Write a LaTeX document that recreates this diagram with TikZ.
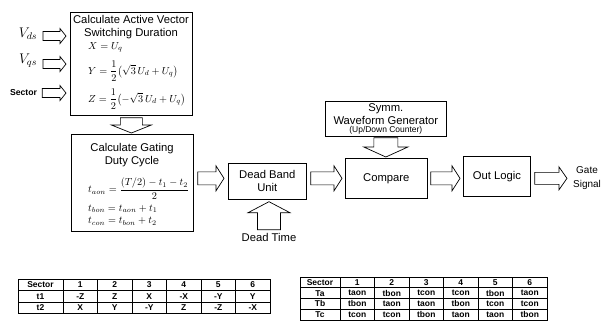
\documentclass[tikz,border=0pt]{standalone}
\usepackage{fix-cm}
\usepackage{amsmath}
\usepackage[no-math]{fontspec}
\setmainfont{Liberation Sans}
\usetikzlibrary{calc}

% hollow block arrow from #1 to #2: shaft half width #3, head half width #4, head length #5
\newcommand\blockarrow[5]{%
  \coordinate (ba-base) at ($(#2)!#5!(#1)$);
  \draw[fat] ($(#1)!#3!90:(#2)$) -- ($(ba-base)!#3!90:(#2)$) -- ($(ba-base)!#4!90:(#2)$)
    -- (#2) -- ($(ba-base)!#4!-90:(#2)$) -- ($(ba-base)!#3!-90:(#2)$)
    -- ($(#1)!#3!-90:(#2)$) -- cycle;}

\tikzset{
  box/.style={draw, line width=0.7bp, rectangle, inner sep=0, anchor=north west},
  lbl/.style={font=\fontsize{11.3}{13}\selectfont, align=center, inner sep=0},
  eq/.style={font=\fontsize{10.3}{11}\selectfont, inner sep=0, anchor=west},
  fat/.style={draw, line width=0.7bp, fill=white, line join=miter},
  grid/.style={line width=0.7bp},
  tbl/.style={font=\fontsize{8.5}{9}\bfseries, inner sep=0},
}

\begin{document}
\begin{tikzpicture}[x=1bp, y=-1bp]
\useasboundingbox (0,0) rectangle (601,325);

% ---- active vector switching duration
\node[box, minimum width=122bp, minimum height=103bp] (avec) at (70,12) {};
\node[lbl] (avtitle) at (131,27) {Calculate Active Vector\\Switching Duration};
\node[eq] (eqx) at (88,47) {$X = U_q$};
\node[eq] (eqy) at (88,71) {$Y = \dfrac{1}{2}\bigl(\sqrt{3}\,U_d + U_q\bigr)$};
\node[eq] (eqz) at (88,99) {$Z = \dfrac{1}{2}\bigl(-\sqrt{3}\,U_d + U_q\bigr)$};

% ---- inputs
\node[inner sep=0, font=\fontsize{14}{16}\selectfont] (vds) at (28,34) {$V_{ds}$};
\node[inner sep=0, font=\fontsize{14}{16}\selectfont] (vqs) at (28,61) {$V_{qs}$};
\node[inner sep=0, font=\fontsize{8.7}{10}\bfseries] (sector) at (23.5,93) {Sector};
\coordinate (i1s) at (43,36);
\coordinate (i1e) at (avec.west |- i1s);
\blockarrow{i1s}{$(i1e)+(-4,0)$}{4.5bp}{7.5bp}{6bp}
\coordinate (i2s) at (43,64);
\coordinate (i2e) at (avec.west |- i2s);
\blockarrow{i2s}{$(i2e)+(-4,0)$}{4.5bp}{7.5bp}{6bp}
\coordinate (i3s) at ($(sector.east)+(5,0)$);
\coordinate (i3e) at (avec.west |- i3s);
\blockarrow{i3s}{$(i3e)+(-4,0)$}{4.5bp}{7.5bp}{6bp}

% ---- gating duty cycle
\node[box, minimum width=122bp, minimum height=97bp] (gating) at (71,134) {};
\node[lbl] (gtitle) at (132,155.5) {Calculate Gating\\Duty Cycle};
\node[eq] (eqa) at (88,189) {$t_{aon} = \dfrac{(T/2)-t_1-t_2}{2}$};
\node[eq] (eqb) at (88,209) {$t_{bon} = t_{aon} + t_1$};
\node[eq] (eqc) at (88,221.5) {$t_{con} = t_{bon} + t_2$};

\coordinate (d1s) at ($(avec.south)+(0,2)$);
\coordinate (d1e) at ($(d1s |- gating.north)+(0,-1)$);
\blockarrow{d1s}{d1e}{11bp}{20bp}{8bp}

% ---- dead band unit
\node[box, minimum width=78bp, minimum height=36bp] (db) at (228,163) {};
\node[lbl] (dbtext) at (db.center) {Dead Band\\Unit};
\node[lbl] (dtime) at (269,237) {Dead Time};

\node[box, minimum width=82bp, minimum height=40bp] (compare) at (345,158) {};
\node[lbl] (cmptext) at (compare.center) {Compare};

\coordinate (a2s) at ($(gating.east |- compare.west)+(4,0)$);
\coordinate (a2e) at ($(db.west |- compare.west)+(-4,0)$);
\blockarrow{a2s}{a2e}{6.5bp}{12.5bp}{8bp}

\coordinate (u1s) at ($(dtime.north)+(0,-3)$);
\coordinate (u1e) at ($(dtime.north |- db.south)+(0,2)$);
\blockarrow{u1s}{u1e}{11.5bp}{21bp}{11bp}

% ---- symmetric waveform generator
\node[box, minimum width=121bp, minimum height=35bp] (gen) at (325,101) {};
\node[lbl] (gentext) at ($(gen.center)+(0,-5)$) {Symm.\\Waveform Generator};
\node[inner sep=0, font=\fontsize{8.5}{9}\selectfont] (gensub) at ($(gen.center)+(0,11.5)$) {(Up/Down Counter)};

\coordinate (g1s) at ($(gen.south)+(0,1)$);
\coordinate (g1e) at ($(gen.south |- compare.north)+(0,-1)$);
\blockarrow{g1s}{g1e}{12bp}{22bp}{10bp}

\coordinate (a3s) at ($(db.east |- compare.west)+(4,0)$);
\coordinate (a3e) at ($(compare.west)+(-3,0)$);
\blockarrow{a3s}{a3e}{6.5bp}{12.5bp}{8bp}

% ---- output logic and gate signal
\node[box, minimum width=67bp, minimum height=40bp] (outl) at (463,156) {};
\node[lbl] (outtext) at (outl.center) {Out Logic};
\node[align=center, inner sep=0, font=\fontsize{10}{14.5}\selectfont] (gate) at (587,178) {Gate\\Signal};

\coordinate (a4s) at ($(compare.east)+(3,0)$);
\coordinate (a4e) at ($(outl.west |- compare.east)+(-3,0)$);
\blockarrow{a4s}{a4e}{6.5bp}{12.5bp}{8bp}

\coordinate (a5s) at ($(outl.east |- compare.east)+(4,0)$);
\coordinate (a5e) at ($(gate.west |- compare.east)+(-6,0)$);
\blockarrow{a5s}{a5e}{6bp}{11.5bp}{8bp}

% ---- table of t1, t2 per sector
\draw[grid] (18,279) rectangle (270,313.5);
\foreach \yy in {290.5,302} \draw[grid] (18,\yy) -- (270,\yy);
\foreach \xx in {63,97.5,132,166.5,201,235.5} \draw[grid] (\xx,279) -- (\xx,313.5);
\foreach \row [count=\r from 0] in {{Sector,1,2,3,4,5,6},{t1,-Z,Z,X,-X,-Y,Y},{t2,X,Y,-Y,Z,-Z,-X}} {
  \foreach \cell [count=\c from 0] in \row {
    \pgfmathsetmacro\cx{\c==0 ? 40.5 : 63+34.5*(\c-0.5)}
    \pgfmathsetmacro\cy{279+11.5*(\r+0.5)}
    \node[tbl] (ta-\r-\c) at (\cx,\cy) {\cell};
  }
}

% ---- table of phase on-times per sector
\draw[grid] (300,277) rectangle (547,320);
\foreach \yy in {287.75,298.5,309.25} \draw[grid] (300,\yy) -- (547,\yy);
\foreach \xx in {340,374.5,409,443.5,478,512.5} \draw[grid] (\xx,277) -- (\xx,320);
\foreach \row [count=\r from 0] in {{Sector,1,2,3,4,5,6},{Ta,taon,tbon,tcon,tcon,tbon,taon},{Tb,tbon,taon,taon,tbon,tcon,tcon},{Tc,tcon,tcon,tbon,taon,taon,tbon}} {
  \foreach \cell [count=\c from 0] in \row {
    \pgfmathsetmacro\cx{\c==0 ? 320 : 340+34.5*(\c-0.5)}
    \pgfmathsetmacro\cy{277+10.75*(\r+0.5)}
    \node[tbl] (tb-\r-\c) at (\cx,\cy) {\cell};
  }
}
\end{tikzpicture}
\end{document}
